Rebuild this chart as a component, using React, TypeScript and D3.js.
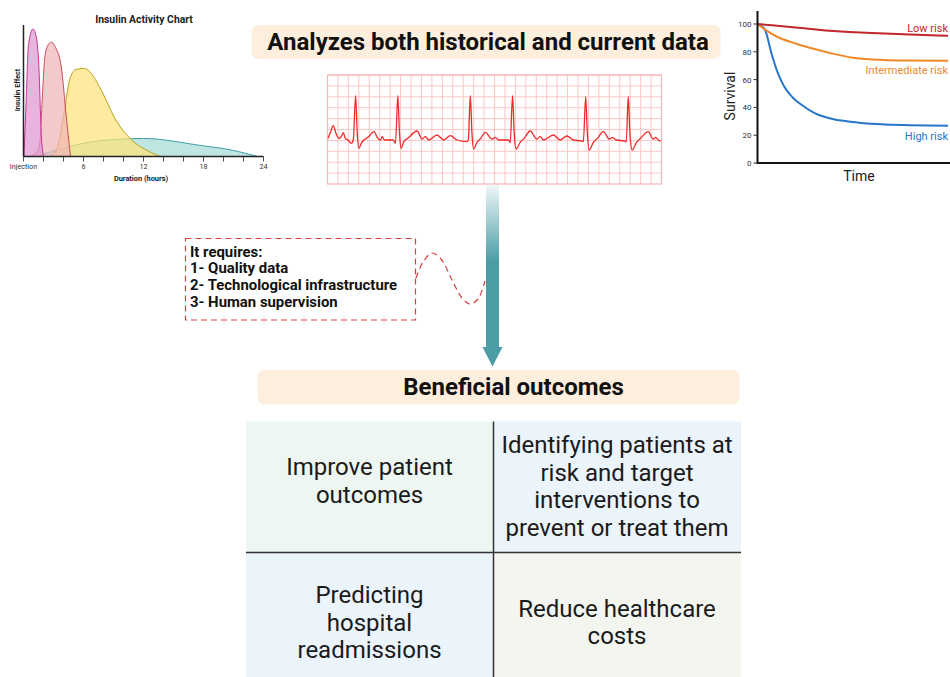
import React from 'react';
import * as d3 from 'd3';

const FONT = 'Roboto, "Noto Sans", sans-serif';

// ---- insulin activity chart (hours after injection, relative effect) ----
const insulinTickHours = [0, 6, 12, 18, 24];
const insulinTickLabels = ['Injection', '6', '12', '18', '24'];
const rapidActing: [number, number][] = [
  [0.05, 0], [0.27, 43], [0.5, 85], [0.95, 97], [1.3, 90], [1.54, 68], [1.77, 18], [2.0, 0],
];
const shortActing: [number, number][] = [
  [0.6, 0], [1.3, 3], [1.6, 8], [1.87, 43], [2.1, 73], [2.4, 84], [2.79, 87], [3.2, 83],
  [3.78, 68], [4.28, 30], [4.7, 0],
];
const intermediateActing: [number, number][] = [
  [2.6, 0], [3.3, 5], [4.1, 35], [4.6, 58], [5.2, 66], [6.1, 67], [6.8, 63], [7.6, 53],
  [9.3, 27], [10.9, 12], [12.5, 4], [13.7, 0],
];
const longActing: [number, number][] = [
  [1.3, 0], [4.3, 7], [7.6, 12], [12, 13.7], [17.7, 8.4], [21, 4.6], [23.4, 0],
];

// ---- ECG strip (ms, mV) ----
const ecgTrace: [number, number][] = [
  [0, 0.05], [8, 0.25], [16, 0.43], [24, 0.2], [33, 0.05], [40, 0.1], [46, 0.22], [52, 0.05],
  [60, 0], [70, -0.1], [76, 0], [83, 1.33], [88, 0.2], [93, -0.25], [100, -0.1], [108, 0],
  [120, 0.08], [138, 0.25], [150, 0.05], [158, 0], [163, 0.1], [170, 0], [196, 0],
  [203, -0.1], [210, 1.33], [215, 0.2], [220, -0.25], [228, -0.05], [240, 0.05], [268, 0.27],
  [283, 0.03], [293, 0.1], [303, 0], [328, 0.15], [348, 0], [368, 0.13], [388, 0],
  [418, -0.05], [422, 0], [428, 1.33], [433, 0.2], [438, -0.27], [448, -0.07], [458, 0.03],
  [473, 0.23], [493, 0.03], [503, 0.08], [513, 0], [543, 0], [548, -0.08], [555, 1.33],
  [560, 0.2], [566, -0.27], [578, -0.07], [590, 0.05], [608, 0.27], [628, 0.03], [638, 0.1],
  [648, 0], [678, 0.15], [698, 0], [718, 0.12], [738, 0], [763, -0.03], [768, -0.05],
  [775, 1.3], [780, 0.2], [786, -0.3], [798, -0.07], [810, 0.05], [828, 0.25], [846, 0.03],
  [856, 0.08], [866, 0], [893, -0.03], [897, -0.06], [903, 1.3], [908, 0.2], [915, -0.3],
  [928, -0.07], [940, 0.05], [963, 0.25], [978, 0.03], [986, 0.08], [993, 0], [1000, -0.03],
];

// ---- survival curves (time, % surviving) ----
const survivalTicks = [0, 20, 40, 60, 80, 100];
const lowRisk: [number, number][] = [[0, 100], [2, 97.5], [4, 95], [6, 93.5], [8, 92.5], [10, 91.5]];
const intermediateRisk: [number, number][] = [
  [0, 100], [0.5, 95], [1, 91], [2, 86], [3, 82], [4, 78.5], [5, 75.8], [6, 74.5], [8, 73.7], [10, 73.5],
];
const highRisk: [number, number][] = [
  [0, 100], [0.2, 98.5], [0.4, 95.7], [0.73, 79], [1.07, 64.6], [1.4, 55], [1.8, 47.8], [2.4, 41],
  [3, 35.9], [4, 31.5], [4.76, 29.9], [6.5, 27.8], [8, 27.2], [10, 26.8],
];

// ---- text ----
const requirements = ['It requires:', '1- Quality data', '2- Technological infrastructure', '3- Human supervision'];
const outcomeCells = [
  ['Improve patient', 'outcomes'],
  ['Identifying patients at', 'risk and target', 'interventions to', 'prevent or treat them'],
  ['Predicting', 'hospital', 'readmissions'],
  ['Reduce healthcare', 'costs'],
];
const connectorPts: [number, number][] = [
  [416, 278], [423, 262], [432, 253], [441, 259], [452, 280], [462, 298], [470, 304], [478, 299], [485, 281],
];

function InsulinChart() {
  const x = d3.scaleLinear().domain([0, 24]).range([23.5, 263.5]);
  const y = d3.scaleLinear().domain([0, 100]).range([156.5, 25]);
  const area = d3.area<[number, number]>()
    .x(d => x(d[0])).y0(y(0)).y1(d => y(d[1])).curve(d3.curveMonotoneX);
  const line = d3.line<[number, number]>().x(d => x(d[0])).y(d => y(d[1])).curve(d3.curveMonotoneX);
  const series = [
    { d: longActing, fill: '#a6ddd8', stroke: '#3a9ea6' },
    { d: intermediateActing, fill: '#fde37a', stroke: '#b9a21e' },
    { d: shortActing, fill: '#f0b4b8', stroke: '#c9505a' },
    { d: rapidActing, fill: '#df96cf', stroke: '#c4389a' },
  ];
  return (
    <g fontFamily={FONT}>
      <text x={144} y={22.5} textAnchor="middle" fontSize={10.4} fontWeight={700} fill="#222">Insulin Activity Chart</text>
      {series.map((s, i) => (
        <g key={i}>
          <path d={area(s.d) || ''} fill={s.fill} fillOpacity={0.72} />
          <path d={line(s.d) || ''} fill="none" stroke={s.stroke} strokeWidth={1} />
        </g>
      ))}
      <line x1={x(0)} x2={x(0)} y1={y(100)} y2={y(0)} stroke="#222" strokeWidth={1.5} />
      <line x1={x(0)} x2={x(24)} y1={y(0)} y2={y(0)} stroke="#222" strokeWidth={1.5} />
      {x.ticks(12).map(t => (
        <line key={t} x1={x(t)} x2={x(t)} y1={y(0)} y2={y(0) + 5} stroke="#222" strokeWidth={0.8} />
      ))}
      {insulinTickHours.map((t, i) => (
        <text key={t} x={x(t)} y={168.5} textAnchor="middle" fontSize={7.2} fill="#333">{insulinTickLabels[i]}</text>
      ))}
      <text x={141} y={181} textAnchor="middle" fontSize={7.4} fontWeight={700} fill="#222">Duration (hours)</text>
      <text transform="translate(19.5,90) rotate(-90)" textAnchor="middle" fontSize={7.2} fontWeight={700} fill="#222">Insulin Effect</text>
    </g>
  );
}

function EcgStrip() {
  const left = 327.5, right = 661.5, top = 75, bottom = 184;
  const x = d3.scaleLinear().domain([0, 1000]).range([left + 0.5, right - 1]);
  const y = d3.scaleLinear().domain([0, 1.33]).range([140, 95.7]);
  const line = d3.line<[number, number]>().x(d => x(d[0])).y(d => y(d[1])).curve(d3.curveMonotoneX);
  const cols = d3.range(left, right, (right - left) / 32);
  const rows = d3.range(top, bottom, (bottom - top) / 10);
  return (
    <g>
      <rect x={left} y={top} width={right - left} height={bottom - top} fill="#fff" />
      {cols.map((c, i) => <line key={'c' + i} x1={c} x2={c} y1={top} y2={bottom} stroke="#fcc6c6" strokeWidth={1} />)}
      {rows.map((r, i) => <line key={'r' + i} x1={left} x2={right} y1={r} y2={r} stroke="#fcc6c6" strokeWidth={1} />)}
      <rect x={left} y={top} width={right - left} height={bottom - top} fill="none" stroke="#f9b4b4" strokeWidth={1.2} />
      <path d={line(ecgTrace) || ''} fill="none" stroke="#f02a2a" strokeWidth={1.3} strokeLinejoin="round" />
    </g>
  );
}

function SurvivalChart() {
  const x = d3.scaleLinear().domain([0, 10]).range([757.5, 948]);
  const y = d3.scaleLinear().domain([0, 100]).range([163, 24]);
  const line = d3.line<[number, number]>().x(d => x(d[0])).y(d => y(d[1])).curve(d3.curveMonotoneX);
  const series = [
    { d: highRisk, c: '#2776c9', label: 'High risk', ly: 140 },
    { d: intermediateRisk, c: '#f0892a', label: 'Intermediate risk', ly: 74 },
    { d: lowRisk, c: '#c2272d', label: 'Low risk', ly: 31.5 },
  ];
  return (
    <g fontFamily={FONT}>
      {series.map(s => (
        <g key={s.label}>
          <path d={line(s.d) || ''} fill="none" stroke={s.c} strokeWidth={2} />
          <text x={948} y={s.ly} textAnchor="end" fontSize={11} fill={s.c}>{s.label}</text>
        </g>
      ))}
      <line x1={x(0)} x2={x(0)} y1={11} y2={y(0)} stroke="#111" strokeWidth={2} />
      <line x1={x(0) - 1} x2={950} y1={y(0)} y2={y(0)} stroke="#111" strokeWidth={2} />
      {survivalTicks.map(t => (
        <g key={t}>
          <line x1={x(0) - 4} x2={x(0)} y1={y(t)} y2={y(t)} stroke="#333" strokeWidth={1} />
          <text x={x(0) - 6} y={y(t) + 3} textAnchor="end" fontSize={8} fill="#333">{t}</text>
        </g>
      ))}
      <text transform="translate(735,96) rotate(-90)" textAnchor="middle" fontSize={14} fill="#222">Survival</text>
      <text x={859} y={181} textAnchor="middle" fontSize={14} fill="#222">Time</text>
    </g>
  );
}

export default function App() {
  const connector = d3.line().curve(d3.curveCatmullRom)(connectorPts) || '';
  return (
    <svg width={950} height={677} viewBox="0 0 950 677"
      style={{ position: 'absolute', left: 0, top: 0, display: 'block', background: '#fff' }}>
      <defs>
        <linearGradient id="arrowGrad" gradientUnits="userSpaceOnUse" x1={0} y1={185} x2={0} y2={262}>
          <stop offset="0" stopColor="#eef7f8" />
          <stop offset="1" stopColor="#4a9ca5" />
        </linearGradient>
      </defs>
      <InsulinChart />
      <rect x={251.5} y={25} width={469} height={34} rx={7} fill="#fdeedd" />
      <text x={488} y={50} textAnchor="middle" fontFamily={FONT} fontWeight={700} fontSize={24} fill="#111">
        Analyzes both historical and current data
      </text>
      <EcgStrip />
      <SurvivalChart />

      {/* arrow */}
      <rect x={486} y={185} width={13} height={163} fill="url(#arrowGrad)" />
      <path d="M482.5,347 L502.5,347 L492.5,366.5 Z" fill="#4a9ca5" />

      {/* requirement box */}
      <rect x={185.5} y={238.5} width={230} height={81.5} fill="none" stroke="#d9413f" strokeWidth={1.2} strokeDasharray="6 4" />
      <path d={connector} fill="none" stroke="#d9413f" strokeWidth={1.2} strokeDasharray="6 4" />
      {requirements.map((t, i) => (
        <text key={t} x={190} y={256.5 + i * 16.8} fontFamily={FONT} fontWeight={700} fontSize={14.9} fill="#111">{t}</text>
      ))}

      <rect x={257.5} y={370} width={482} height={34.5} rx={7} fill="#fdeedd" />
      <text x={513.5} y={395} textAnchor="middle" fontFamily={FONT} fontWeight={700} fontSize={24} fill="#111">
        Beneficial outcomes
      </text>

      {/* outcomes grid */}
      <rect x={246} y={421.5} width={247.5} height={131} fill="#eef6f1" />
      <rect x={493.5} y={421.5} width={247.5} height={131} fill="#ebf3fb" />
      <rect x={246} y={552.5} width={247.5} height={125} fill="#ebf3fb" />
      <rect x={493.5} y={552.5} width={247.5} height={125} fill="#f3f6ef" />
      <line x1={493.5} x2={493.5} y1={421.5} y2={677} stroke="#333" strokeWidth={1.5} />
      <line x1={246} x2={741} y1={552.5} y2={552.5} stroke="#333" strokeWidth={1.5} />
      {outcomeCells.map((lines, ci) => {
        const cx = ci % 2 === 0 ? 369.5 : 617;
        const firstY = [475, 453.3, 603.3, 616.7][ci];
        return lines.map((t, li) => (
          <text key={ci + '-' + li} x={cx} y={firstY + li * 27.5} textAnchor="middle"
            fontFamily={FONT} fontSize={24} fill="#1a1a1a">{t}</text>
        ));
      })}
    </svg>
  );
}
